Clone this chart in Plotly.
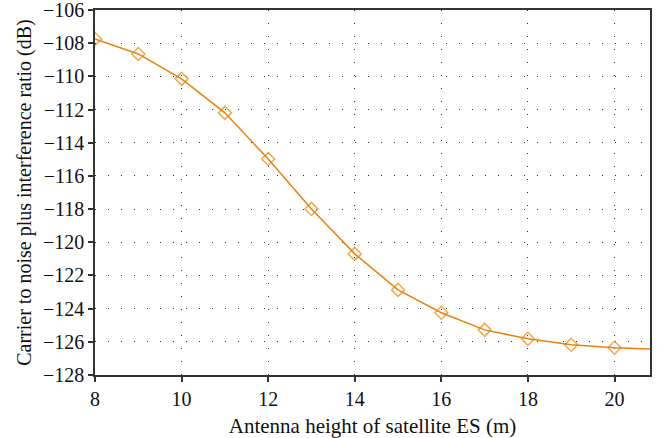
import plotly.graph_objects as go

height_m = [8, 9, 10, 11, 12, 13, 14, 15, 16, 17, 18, 19, 20, 21]
cnir_db = [-107.75, -108.65, -110.15, -112.2, -114.98, -117.99, -120.7,
           -122.87, -124.25, -125.28, -125.82, -126.18, -126.36, -126.45]
marker_sizes = [10] * 13 + [0]

x_ticks = [8, 10, 12, 14, 16, 18, 20]
y_ticks = list(range(-128, -105, 2))

color = "#E8820C"
fig = go.Figure()
fig.add_trace(go.Scatter(
    x=height_m, y=cnir_db, mode="lines+markers",
    line=dict(color=color, width=1.5),
    marker=dict(symbol="diamond-open", size=marker_sizes, color=color,
                line=dict(width=1.5, color=color)),
    showlegend=False, cliponaxis=True,
))

font = dict(family="Liberation Serif, Times New Roman, serif", size=20, color="#111")
axis_common = dict(
    showline=True, linecolor="#333", linewidth=1.5, mirror=True,
    ticks="outside", ticklen=5, tickcolor="#333", tickwidth=1.5,
    showgrid=True, gridcolor="#333", gridwidth=1.2, griddash="1px,12px",
    zeroline=False, tickfont=dict(size=20), automargin=False,
    ticklabeloverflow="allow",
)
fig.update_layout(
    width=664, height=438,
    margin=dict(l=95, r=14, t=10, b=63),
    paper_bgcolor="white", plot_bgcolor="white",
    font=font,
    xaxis=dict(range=[8, 20.82], tickvals=x_ticks,
               title=dict(text="Antenna height of satellite ES (m)", standoff=12, font=dict(size=21)),
               **axis_common),
    yaxis=dict(range=[-128, -106], tickvals=y_ticks,
               ticktext=[f"\u2212{abs(v)}" for v in y_ticks],
               title=dict(text="Carrier to noise plus interference ratio (dB)", standoff=6, font=dict(size=20)),
               **axis_common),
)
fig.write_html("out.html", config={"displayModeBar": False},
               post_script="document.body.style.margin='0px';")
